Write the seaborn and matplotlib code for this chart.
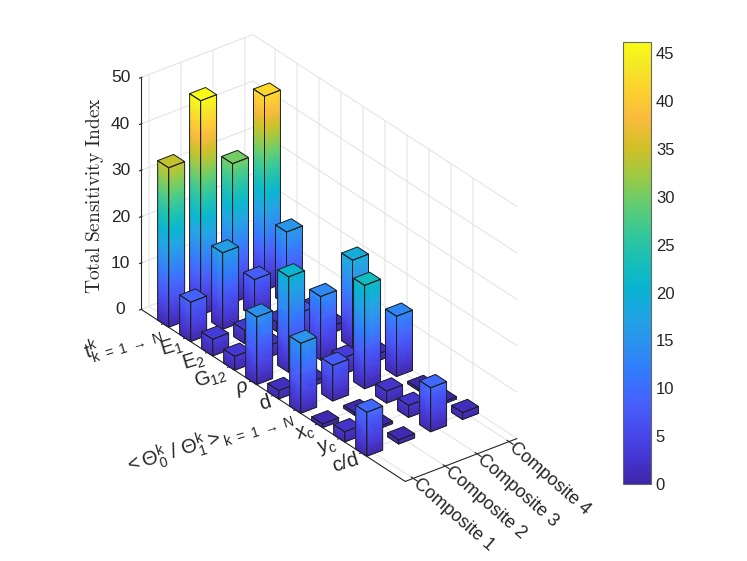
import numpy as np
import matplotlib
matplotlib.use("Agg")
import matplotlib.pyplot as plt
import seaborn as sns
from matplotlib.colors import LinearSegmentedColormap, Normalize
from matplotlib import cm
from mpl_toolkits.mplot3d.art3d import Poly3DCollection

#---------- Dados ----------
parametros = [r'$\mathrm{t^k_{k\ =\ 1\ \rightarrow\ N}}$', r'$\mathrm{E_1}$', r'$\mathrm{E_2}$',
              r'$\mathrm{G_{12}}$', r'$\rho$', 'd',
              r'$\mathrm{<\Theta^k_0\ /\ \Theta^k_1>_{k\ =\ 1\ \rightarrow\ N}}$',
              r'$\mathrm{x_c}$', r'$\mathrm{y_c}$', 'c/d']
compositos = ['Composite 1', 'Composite 2', 'Composite 3', 'Composite 4']

comp1 = [34.4, 8.5, 3.6, 3.0, 14.6, 1.8, 15.1, 0.8, 2.2, 9.5]
comp2 = [46.2, 16.5, 2.9, 2.5, 20.6, 1.0, 7.7, 0.6, 0.5, 0.9]
comp3 = [30.0, 8.1, 2.0, 7.0, 13.7, 3.5, 22.3, 2.6, 2.6, 9.5]
comp4 = [41.9, 15.7, 2.0, 1.5, 18.9, 1.5, 13.0, 0.5, 0.5, 1.5]

z_ticks = [0, 10, 20, 30, 40, 50]
cbar_ticks = [0, 5, 10, 15, 20, 25, 30, 35, 40, 45]

#---------- Estilo ----------
sns.set_style("white")
plt.rcParams['font.family'] = ['Liberation Sans', 'DejaVu Sans']
plt.rcParams['mathtext.fontset'] = 'custom'
plt.rcParams['mathtext.rm'] = 'Liberation Sans'
plt.rcParams['mathtext.it'] = 'Liberation Sans:italic'
plt.rcParams['mathtext.bf'] = 'Liberation Sans:bold'
plt.rcParams['grid.color'] = '#e1e1e1'
plt.rcParams['grid.linewidth'] = 0.7
plt.rcParams['grid.linestyle'] = '-'

# parula (MATLAB), amostrada
parula_pts = [
    (0.2422, 0.1504, 0.6603), (0.2706, 0.2147, 0.8364), (0.2813, 0.3006, 0.9414),
    (0.2699, 0.3892, 0.9906), (0.1963, 0.4847, 0.9892), (0.1687, 0.5703, 0.9359),
    (0.1248, 0.6459, 0.8883), (0.0297, 0.7082, 0.8163), (0.0964, 0.7500, 0.7120),
    (0.2161, 0.7843, 0.5923), (0.3909, 0.8029, 0.4354), (0.6174, 0.7876, 0.2612),
    (0.8203, 0.7498, 0.1535), (0.9728, 0.7298, 0.2394), (0.9892, 0.8136, 0.1885),
    (0.9597, 0.9135, 0.1423), (0.9769, 0.9839, 0.0805)]
pos = list(np.arange(0, 64, 4) / 63.0) + [1.0]
parula = LinearSegmentedColormap.from_list('parula', list(zip(pos, parula_pts)))

valores = np.array([comp1, comp2, comp3, comp4])  # (composito, parametro)
norm = Normalize(0, valores.max())

txt = (0.15, 0.15, 0.15)
largura = 0.5
dz = 0.5

fig = plt.figure(figsize=(7.47, 5.61), dpi=100)
ax = fig.add_axes([-0.03, 0.006, 0.92, 1.04], projection='3d', computed_zorder=False)
ax.set_proj_type('ortho')
ax.view_init(elev=30, azim=-37.5)


def desenha_barra(ax, xc, yc, h, ordem):
    x0, x1 = xc - largura / 2, xc + largura / 2
    y0, y1 = yc - largura / 2, yc + largura / 2
    niveis = np.append(np.arange(0, h, dz), h)
    polys, cores = [], []
    for za, zb in zip(niveis[:-1], niveis[1:]):
        cor = parula(norm((za + zb) / 2))
        polys.append([(x0, y0, za), (x1, y0, za), (x1, y0, zb), (x0, y0, zb)])
        polys.append([(x1, y0, za), (x1, y1, za), (x1, y1, zb), (x1, y0, zb)])
        cores += [cor, cor]
    topo = [(x0, y0, h), (x1, y0, h), (x1, y1, h), (x0, y1, h)]
    polys.append(topo)
    cores.append(parula(norm(h)))
    faces = Poly3DCollection(polys, facecolors=cores, edgecolors=cores, linewidths=0.4)
    faces.set_zorder(ordem)
    ax.add_collection3d(faces, autolim=False)
    frente = [(x0, y0, 0), (x1, y0, 0), (x1, y0, h), (x0, y0, h)]
    lado = [(x1, y0, 0), (x1, y1, 0), (x1, y1, h), (x1, y0, h)]
    borda = Poly3DCollection([frente, lado, topo], facecolors=[(0, 0, 0, 0)] * 3,
                             edgecolors=[(0.12, 0.12, 0.12, 1)] * 3, linewidths=0.7)
    borda.set_zorder(ordem + 0.5)
    ax.add_collection3d(borda, autolim=False)


# ordem de pintura: de tras para frente
az = np.deg2rad(-37.5)
lista = []
for j in range(valores.shape[0]):
    for i in range(valores.shape[1]):
        prof = np.cos(az) * (i + 1) + np.sin(az) * (j + 1)
        lista.append((prof, i + 1, j + 1, valores[j, i]))
lista.sort()
for k, (prof, xc, yc, h) in enumerate(lista):
    desenha_barra(ax, xc, yc, h, 10 + 2 * k)

ax.set_xlim(0, 12)
ax.set_ylim(0.75, 4.25)
ax.set_zlim(0, 50)
ax.set_box_aspect((431, 140, 266), zoom=0.88)

ax.set_xticks(range(1, 11))
ax.set_xticklabels(parametros, rotation=17, ha='right', va='center',
                   rotation_mode='anchor', fontsize=14.5, color=txt)
ax.set_yticks(range(1, 5))
ax.set_yticklabels(compositos, rotation=-41, ha='left', va='center',
                   rotation_mode='anchor', fontsize=13, color=txt)
ax.set_zticks(z_ticks)
ax.set_zticklabels([str(v) for v in z_ticks], fontsize=12.5, color=txt)
ax.zaxis.set_ticks_position('lower')
ax.xaxis.set_tick_params(pad=-3)
ax.yaxis.set_tick_params(pad=-6)
ax.zaxis.set_tick_params(pad=4)

for eixo in (ax.xaxis, ax.yaxis, ax.zaxis):
    eixo.set_pane_color((1, 1, 1, 1))
    eixo.pane.set_edgecolor((1, 1, 1, 0))
    eixo.line.set_color(txt)
    eixo.line.set_linewidth(0.8)
ax.tick_params(colors=txt)

fig.text(0.127, 0.652, r'$\mathrm{Total\ Sensitivity\ Index}$', rotation=90,
         fontsize=14, color=txt, ha='center', va='center', math_fontfamily='cm')

#---------- Colorbar ----------
cax = fig.add_axes([623 / 747, 1 - 484 / 561, 28 / 747, 442 / 561])
cb = fig.colorbar(cm.ScalarMappable(norm=norm, cmap=parula), cax=cax)
cb.set_ticks(cbar_ticks)
cax.tick_params(direction='in', length=4, width=0.6, colors=txt, labelsize=12)
cb.outline.set_edgecolor((0.4, 0.4, 0.4))
cb.outline.set_linewidth(0.8)

fig.savefig('out.png', dpi=100, facecolor='white')
